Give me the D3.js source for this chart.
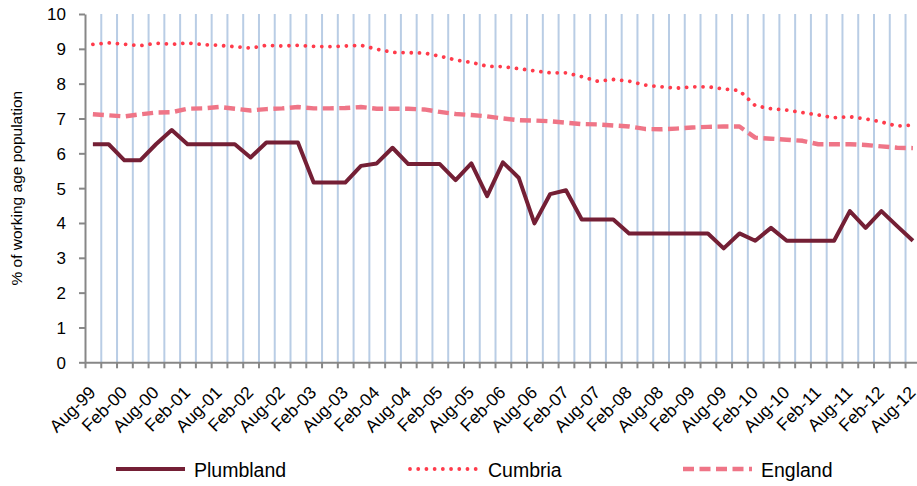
<!DOCTYPE html>
<html>
<head>
<meta charset="utf-8">
<title>Plumbland claimant rate</title>
<style>
  body { margin: 0; background: #fff; }
  svg { display: block; font-family: "Liberation Sans", Arial, sans-serif; }
  .grid line { stroke: #b9cde5; stroke-width: 2; }
  .grid path { display: none; }
  .axis path, .axis line { stroke: #878787; stroke-width: 2; }
  .axis text { fill: #000; font-size: 17px; font-family: "Liberation Sans", Arial, sans-serif; }
</style>
</head>
<body>
<script src="https://cdn.jsdelivr.net/npm/d3@7"></script>
<script>
// quarterly points, Aug-99 .. Aug-12
var quarters = [
  "Aug-99", "Nov-99", "Feb-00", "May-00", "Aug-00", "Nov-00", "Feb-01", "May-01", "Aug-01", "Nov-01",
  "Feb-02", "May-02", "Aug-02", "Nov-02", "Feb-03", "May-03", "Aug-03", "Nov-03", "Feb-04", "May-04",
  "Aug-04", "Nov-04", "Feb-05", "May-05", "Aug-05", "Nov-05", "Feb-06", "May-06", "Aug-06", "Nov-06",
  "Feb-07", "May-07", "Aug-07", "Nov-07", "Feb-08", "May-08", "Aug-08", "Nov-08", "Feb-09", "May-09",
  "Aug-09", "Nov-09", "Feb-10", "May-10", "Aug-10", "Nov-10", "Feb-11", "May-11", "Aug-11", "Nov-11",
  "Feb-12", "May-12", "Aug-12"
];
// only every other quarter is labelled
var tickLabels = quarters.filter(function(d, i) { return i % 2 === 0; });

var plumbland = [
  6.26, 6.26, 5.80, 5.80, 6.26, 6.67, 6.26, 6.26, 6.26, 6.26,
  5.88, 6.31, 6.31, 6.31, 5.16, 5.16, 5.16, 5.64, 5.71, 6.16,
  5.69, 5.69, 5.69, 5.23, 5.71, 4.77, 5.74, 5.30, 3.99, 4.83,
  4.94, 4.10, 4.10, 4.10, 3.70, 3.70, 3.70, 3.70, 3.70, 3.70,
  3.27, 3.70, 3.49, 3.86, 3.49, 3.49, 3.49, 3.49, 4.34, 3.86,
  4.34, 3.91, 3.49
];
var cumbria = [
  9.13, 9.17, 9.13, 9.09, 9.16, 9.13, 9.17, 9.12, 9.10, 9.06,
  9.02, 9.10, 9.08, 9.10, 9.07, 9.06, 9.08, 9.10, 8.99, 8.90,
  8.89, 8.88, 8.79, 8.68, 8.61, 8.50, 8.49, 8.43, 8.37, 8.31,
  8.31, 8.20, 8.07, 8.12, 8.07, 7.96, 7.91, 7.87, 7.91, 7.91,
  7.85, 7.80, 7.37, 7.28, 7.24, 7.17, 7.10, 7.02, 7.05, 6.99,
  6.90, 6.78, 6.81
];
var england = [
  7.12, 7.09, 7.06, 7.12, 7.17, 7.18, 7.28, 7.29, 7.33, 7.28,
  7.23, 7.27, 7.29, 7.33, 7.29, 7.29, 7.30, 7.33, 7.28, 7.28,
  7.28, 7.26, 7.19, 7.13, 7.10, 7.06, 7.00, 6.95, 6.94, 6.92,
  6.88, 6.84, 6.83, 6.80, 6.77, 6.70, 6.69, 6.71, 6.74, 6.76,
  6.77, 6.77, 6.45, 6.42, 6.39, 6.36, 6.26, 6.26, 6.26, 6.24,
  6.20, 6.16, 6.15
];
var seriesNames = ["Plumbland", "Cumbria", "England"];
var yTicks = [0, 1, 2, 3, 4, 5, 6, 7, 8, 9, 10];

var W = 917, H = 486;
var plotLeft = 85, plotTop = 14, plotBottom = 362.3;
var step = 15.77; // one quarter; plot runs past the right edge of the picture
var plotRight = plotLeft + step * quarters.length;

var styles = {
  Plumbland: { color: "#741f35", width: 4, dash: null, cap: "butt" },
  Cumbria: { color: "#ff3b4b", width: 3.8, dash: "0.01 8.2", cap: "round" },
  England: { color: "#ef7587", width: 4.4, dash: "11 5.5", cap: "butt" }
};
var values = { Plumbland: plumbland, Cumbria: cumbria, England: england };

var svg = d3.select("body").append("svg")
  .attr("width", W)
  .attr("height", H);

var x = d3.scaleBand().domain(quarters).range([plotLeft, plotRight]).paddingInner(0).paddingOuter(0);
// boundaries between quarters, for gridlines and tick marks
var xb = d3.scaleLinear().domain([0, quarters.length]).range([plotLeft, plotRight]);
var y = d3.scaleLinear().domain([0, 10]).range([plotBottom, plotTop]);

// vertical gridlines
svg.append("g")
  .attr("class", "grid")
  .attr("transform", "translate(0," + plotBottom + ")")
  .call(d3.axisBottom(xb).tickValues(d3.range(1, quarters.length + 1)).tickSize(-(plotBottom - plotTop)).tickFormat(""));

// y axis
svg.append("g")
  .attr("class", "axis")
  .attr("transform", "translate(" + plotLeft + ",0)")
  .call(d3.axisLeft(y).tickValues(yTicks).tickSize(6).tickSizeOuter(0).tickPadding(13))
  .selectAll("text").attr("dy", "0.35em");

// x axis line and tick marks
svg.append("g")
  .attr("class", "axis")
  .attr("transform", "translate(0," + plotBottom + ")")
  .call(d3.axisBottom(xb).tickValues(d3.range(0, quarters.length + 1)).tickSize(6).tickSizeOuter(0).tickFormat(""));

// rotated category labels
svg.append("g")
  .selectAll("text")
  .data(tickLabels)
  .enter().append("text")
  .attr("transform", function(d) {
    return "translate(" + (x(d) + x.bandwidth() / 2 - 0.5) + "," + (plotBottom + 27) + ") rotate(-45)";
  })
  .attr("text-anchor", "end")
  .attr("dy", "0.35em")
  .style("font-size", "17.5px")
  .text(function(d) { return d; });

// y title
svg.append("text")
  .attr("transform", "translate(22," + ((plotTop + plotBottom) / 2) + ") rotate(-90)")
  .attr("text-anchor", "middle")
  .style("font-size", "15.5px")
  .text("% of working age population");

var line = d3.line()
  .x(function(d, i) { return x(quarters[i]) + x.bandwidth() / 2; })
  .y(function(d) { return y(d); });

// draw England first so Plumbland sits on top
["England", "Cumbria", "Plumbland"].forEach(function(name) {
  var s = styles[name];
  svg.append("path")
    .attr("d", line(values[name]))
    .attr("fill", "none")
    .attr("stroke", s.color)
    .attr("stroke-width", s.width)
    .attr("stroke-dasharray", s.dash)
    .attr("stroke-linecap", s.cap)
    .attr("stroke-linejoin", "round");
});

// legend
var legendX = [116, 410, 683];
var legend = svg.append("g").selectAll("g")
  .data(seriesNames)
  .enter().append("g")
  .attr("transform", function(d, i) { return "translate(" + legendX[i] + ",469)"; });

legend.append("line")
  .attr("x1", 0).attr("x2", 69)
  .attr("stroke", function(d) { return styles[d].color; })
  .attr("stroke-width", function(d) { return styles[d].width; })
  .attr("stroke-dasharray", function(d) { return styles[d].dash; })
  .attr("stroke-linecap", function(d) { return styles[d].cap; });

legend.append("text")
  .attr("x", 78)
  .attr("y", 8)
  .style("font-size", "19.5px")
  .text(function(d) { return d; });
</script>
</body>
</html>
